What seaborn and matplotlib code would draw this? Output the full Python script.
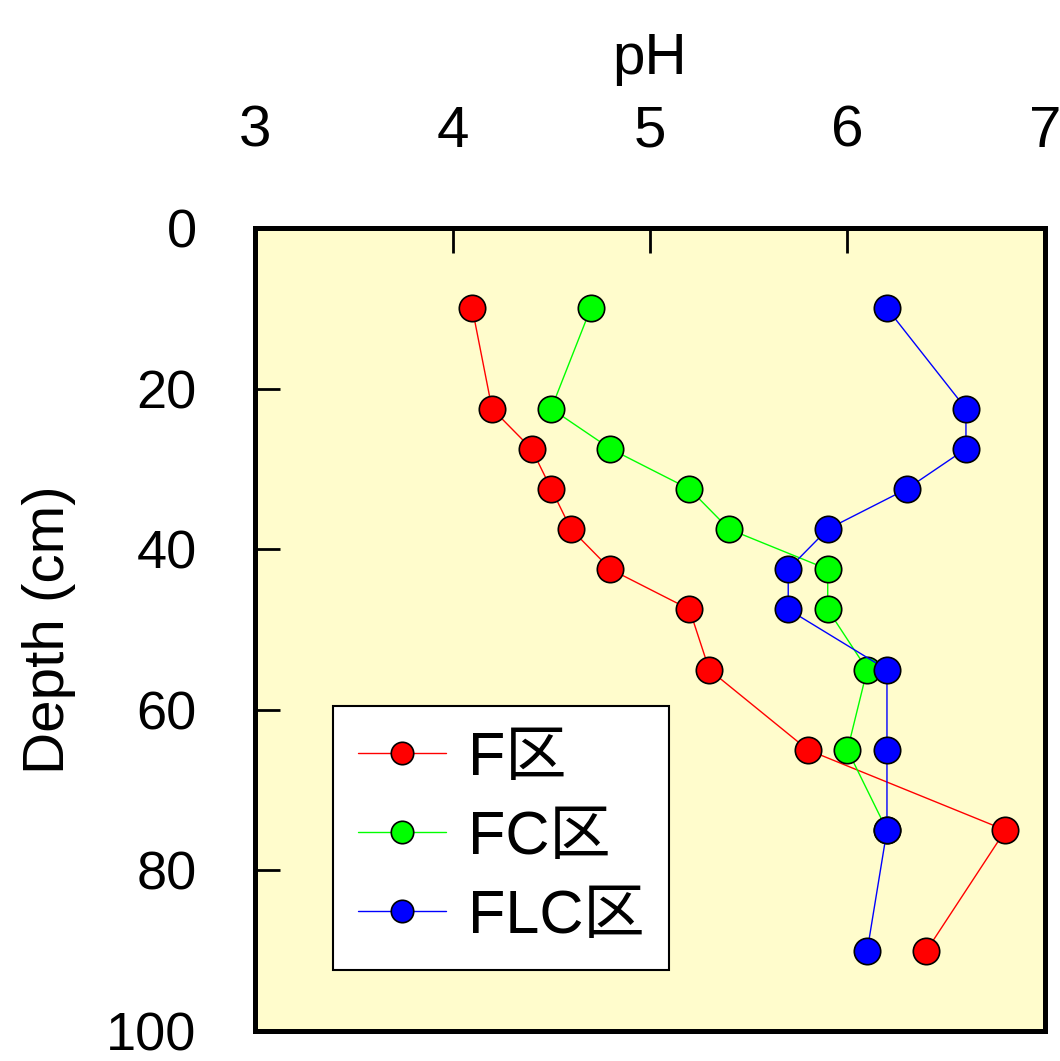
#!/usr/bin/env python3
"""
Soil pH depth profiles for the F, FC and FLC plots.
"""
import matplotlib
matplotlib.use("Agg")
import matplotlib.pyplot as plt
import seaborn as sns
import pandas as pd

# data
depth = [10, 22.5, 27.5, 32.5, 37.5, 42.5, 47.5, 55, 65, 75, 90]
ph_f = [4.1, 4.2, 4.4, 4.5, 4.6, 4.8, 5.2, 5.3, 5.8, 6.8, 6.4]
ph_fc = [4.7, 4.5, 4.8, 5.2, 5.4, 5.9, 5.9, 6.1, 6.0, 6.2]
ph_flc = [6.2, 6.6, 6.6, 6.3, 5.9, 5.7, 5.7, 6.2, 6.2, 6.2, 6.1]
plot_names = ["F区", "FC区", "FLC区"]
x_ticks = [3, 4, 5, 6, 7]
y_ticks = [0, 20, 40, 60, 80, 100]

sns.set_theme(style="ticks", rc={"text.color": "black", "axes.labelcolor": "black",
                                 "xtick.color": "black", "ytick.color": "black"})
plt.rcParams["font.family"] = ["Liberation Sans", "Noto Sans CJK JP"]


def build_frame():
    rows = []
    for name, vals in zip(plot_names, [ph_f, ph_fc, ph_flc]):
        for d, v in zip(depth, vals):
            rows.append({"plot": name, "depth": d, "pH": v})
    return pd.DataFrame(rows)


def main():
    df = build_frame()
    fig = plt.figure(figsize=(10.6, 10.61), dpi=100)
    ax = fig.add_axes([0.2406, 0.0283, 0.7452, 0.7568])
    ax.set_facecolor("#FFFCCC")

    palette = {"F区": "#FF0000", "FC区": "#00FF00", "FLC区": "#0000FF"}
    sns.lineplot(data=df, x="pH", y="depth", hue="plot", hue_order=plot_names,
                 palette=palette, sort=False, estimator=None, marker="o",
                 markersize=19, markeredgecolor="black", markeredgewidth=1.2,
                 linewidth=1.0, ax=ax)

    ax.set_xlim(3, 7)
    ax.set_ylim(100, 0)
    ax.set_xticks(x_ticks)
    ax.set_yticks(y_ticks)
    ax.xaxis.tick_top()
    ax.xaxis.set_label_position("top")
    ax.tick_params(axis="x", direction="in", length=18, width=2, labelsize=42, pad=50,
                   top=True, bottom=False, colors="black")
    ax.tick_params(axis="y", direction="in", length=18, width=2, labelsize=39, pad=42,
                   left=True, right=False, colors="black")
    for s in ax.spines.values():
        s.set_visible(True)
        s.set_linewidth(3.6)
        s.set_color("black")
    ax.set_xlabel("pH", fontsize=42, labelpad=22, color="black")
    ax.set_ylabel("Depth (cm)", fontsize=42, labelpad=22, color="black")

    leg = ax.legend(loc="lower left", bbox_to_anchor=(0.099, 0.076), borderaxespad=0,
                    fontsize=44, frameon=True, fancybox=False, handlelength=1.45,
                    handletextpad=0.35, labelspacing=0.36, borderpad=0.4,
                    markerscale=0.85)
    for t in leg.get_texts():
        t.set_color("black")
    leg.get_frame().set_edgecolor("black")
    leg.get_frame().set_linewidth(1.5)
    leg.get_frame().set_facecolor("white")
    leg.get_frame().set_alpha(1)

    fig.savefig("out.png", dpi=100)


if __name__ == "__main__":
    main()
